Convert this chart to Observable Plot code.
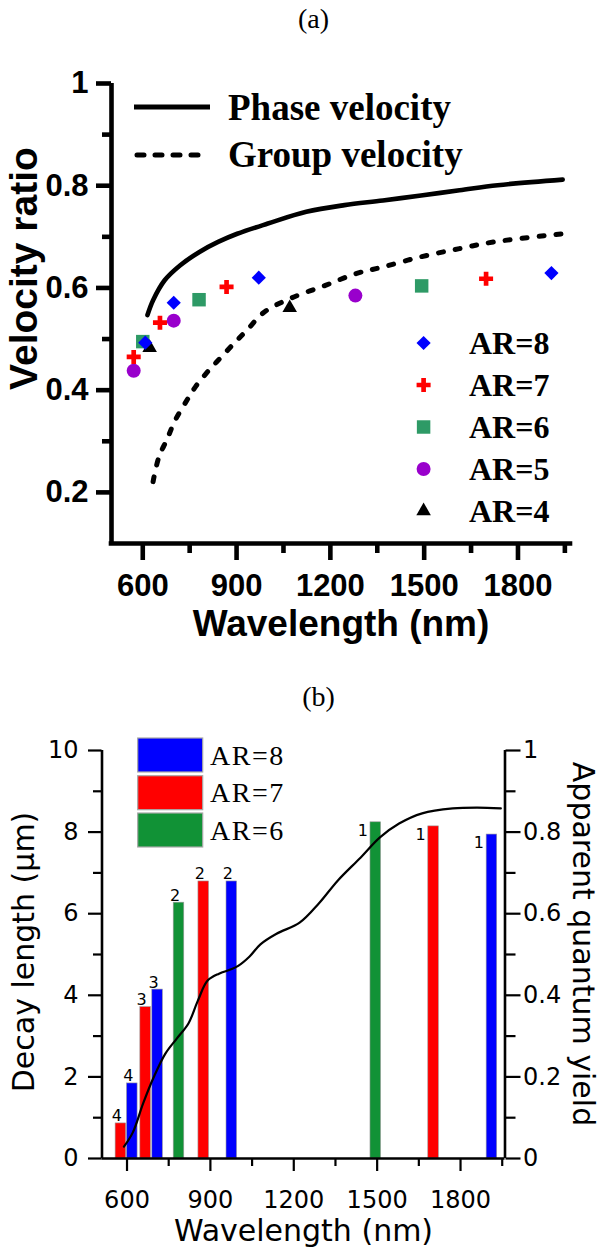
<!DOCTYPE html>
<html><head><meta charset="utf-8">
<script src="https://cdn.jsdelivr.net/npm/d3@7"></script>
<script src="https://cdn.jsdelivr.net/npm/@observablehq/plot@0.6"></script>
<style>
body{margin:0;background:#fff;}
#wrap{position:relative;width:600px;height:1250px;overflow:hidden;background:#fff;}
#wrap svg{position:absolute;left:0;}
</style></head><body><div id="wrap"></div>
<script>
// ---------- Panel (a): velocity ratio ----------
const seriesLabels = ["AR=8", "AR=7", "AR=6", "AR=5", "AR=4"];
const ar8Wavelength = [608, 699, 971, 1907];
const ar8Ratio = [0.493, 0.571, 0.620, 0.629];
const ar7Wavelength = [571, 655, 868, 1698];
const ar7Ratio = [0.465, 0.532, 0.602, 0.618];
const ar6Wavelength = [600, 780, 1492];
const ar6Ratio = [0.495, 0.577, 0.604];
const ar5Wavelength = [571, 699, 1280];
const ar5Ratio = [0.438, 0.536, 0.585];
const ar4Wavelength = [622, 1070];
const ar4Ratio = [0.483, 0.561];
const phaseWavelength = [615, 633, 670, 719, 780, 841, 902, 1000, 1123, 1245, 1368, 1490, 1613, 1735, 1943];
const phaseRatio = [0.547, 0.576, 0.615, 0.644, 0.670, 0.690, 0.706, 0.726, 0.749, 0.762, 0.771, 0.781, 0.791, 0.801, 0.812];
const groupWavelength = [633, 652, 677, 702, 739, 769, 813, 853, 897, 934, 989, 1074, 1184, 1282, 1368, 1490, 1613, 1723, 1943];
const groupRatio = [0.221, 0.270, 0.303, 0.339, 0.378, 0.407, 0.440, 0.466, 0.495, 0.518, 0.553, 0.580, 0.605, 0.628, 0.641, 0.661, 0.677, 0.690, 0.706];
const lineLabels = ["Phase velocity", "Group velocity"];
const aXTicks = [600, 900, 1200, 1500, 1800];
const aXMinor = [750, 1050, 1350, 1650, 1950];
const aYTicks = [0.2, 0.4, 0.6, 0.8, 1];
const aYMinor = [0.3, 0.5, 0.7, 0.9];

// ---------- Panel (b): decay length & quantum yield ----------
const barSeries = ["AR=8", "AR=7", "AR=6"];
const bar8Wavelength = [619, 710, 977, 1913];
const bar8Decay = [1.84, 4.14, 6.79, 7.94];
const bar8Mode = [4, 3, 2, 1];
const bar7Wavelength = [578, 667, 876, 1703];
const bar7Decay = [0.86, 3.71, 6.79, 8.14];
const bar7Mode = [4, 3, 2, 1];
const bar6Wavelength = [787, 1495];
const bar6Decay = [6.27, 8.24];
const bar6Mode = [2, 1];
const yieldWavelength = [589, 621, 658, 696, 738, 779, 821, 855, 890, 931, 972, 1000, 1041, 1080, 1138, 1221, 1290, 1358, 1441, 1510, 1579, 1662, 1772, 1860, 1945];
const yieldValue = [0.029, 0.064, 0.135, 0.199, 0.257, 0.294, 0.331, 0.387, 0.436, 0.453, 0.463, 0.472, 0.495, 0.525, 0.551, 0.578, 0.625, 0.681, 0.738, 0.787, 0.821, 0.846, 0.858, 0.860, 0.858];
const bXTicks = [600, 900, 1200, 1500, 1800];
const bXMinor = [750, 1050, 1350, 1650, 1950];
const bLeftTicks = [0, 2, 4, 6, 8, 10];
const bLeftMinor = [1, 3, 5, 7, 9];
const bRightTicks = [0, 0.2, 0.4, 0.6, 0.8, 1];
const bRightMinor = [0.1, 0.3, 0.5, 0.7, 0.9];

// ---------- styles ----------
const dotStyle = {
  "AR=8": {fill: "#0000ff", symbol: "diamond2", r: 6.4},
  "AR=7": {fill: "#ff0000", symbol: "cross", r: 5.9},
  "AR=6": {fill: "#2e9a66", symbol: "square", r: 7.6},
  "AR=5": {fill: "#9900cc", symbol: "circle", r: 7},
  "AR=4": {fill: "#000000", symbol: "triangle", r: 5.4}
};
const barColor = {"AR=8": "#0000ff", "AR=7": "#ff0000", "AR=6": "#119236"};
const serif = "'Liberation Serif', 'Times New Roman', serif";

const zip = (xs, ys, s) => xs.map((x, i) => ({x, y: ys[i], s}));
const pointsA = {
  "AR=8": zip(ar8Wavelength, ar8Ratio, "AR=8"),
  "AR=7": zip(ar7Wavelength, ar7Ratio, "AR=7"),
  "AR=6": zip(ar6Wavelength, ar6Ratio, "AR=6"),
  "AR=5": zip(ar5Wavelength, ar5Ratio, "AR=5"),
  "AR=4": zip(ar4Wavelength, ar4Ratio, "AR=4")
};
const phase = zip(phaseWavelength, phaseRatio, lineLabels[0]);
const group = zip(groupWavelength, groupRatio, lineLabels[1]);
const drawOrder = ["AR=6", "AR=4", "AR=5", "AR=7", "AR=8"];

const AX = 4.6;
const plotA = Plot.plot({
  width: 600, height: 660,
  marginLeft: 111, marginRight: 30, marginTop: 83, marginBottom: 117,
  x: {domain: [500, 1968], axis: null},
  y: {domain: [0.1, 1], axis: null},
  style: "font-family: 'Liberation Sans', Arial, sans-serif; font-weight: bold; background: white; color: black; overflow: visible;",
  marks: [
    Plot.line(phase, {x: "x", y: "y", curve: "catmull-rom", stroke: "black", strokeWidth: 4.6}),
    Plot.line(group, {x: "x", y: "y", curve: "catmull-rom", stroke: "black", strokeWidth: 5, strokeDasharray: "5,12", strokeLinecap: "round"}),
    ...drawOrder.map(s => Plot.dot(pointsA[s], {x: "x", y: "y", symbol: () => dotStyle[s].symbol, fill: dotStyle[s].fill, r: dotStyle[s].r, stroke: "none"})),
    Plot.ruleX([500], {y1: 0.1, y2: 1, strokeWidth: AX}),
    Plot.ruleY([0.1], {x1: 500, x2: 1968, strokeWidth: AX, strokeLinecap: "square"}),
    Plot.axisY(aYTicks, {tickSize: 15, tickPadding: 8, strokeWidth: AX, fontSize: 31, tickFormat: d => String(d), label: null}),
    Plot.axisY(aYMinor, {tickSize: 9, strokeWidth: AX, text: null, label: null}),
    Plot.axisX(aXTicks, {tickSize: 17, tickPadding: 13, strokeWidth: AX, fontSize: 31, tickFormat: d => String(d), label: null}),
    Plot.axisX(aXMinor, {tickSize: 10, strokeWidth: AX, text: null, label: null}),
    Plot.text(["Wavelength (nm)"], {text: d => d, frameAnchor: "bottom", textAnchor: "middle", lineAnchor: "bottom", dy: 92, fontSize: 37}),
    Plot.text(["Velocity ratio"], {text: d => d, frameAnchor: "left", textAnchor: "middle", lineAnchor: "bottom", rotate: -90, dx: -75, dy: -45, fontSize: 39}),
    Plot.text(["(a)"], {text: d => d, frameAnchor: "top", textAnchor: "middle", lineAnchor: "bottom", dx: 313 - 340.5, dy: 27 - 83, fontSize: 28, fontWeight: "normal", fontFamily: serif})
  ]
});
plotA.style.top = "0px";

// legend (a)
{
  const g = d3.select(plotA).append("g").attr("font-family", serif).attr("font-weight", "bold").attr("text-anchor", "start");
  g.append("line").attr("x1", 134).attr("x2", 210).attr("y1", 107).attr("y2", 107).attr("stroke", "black").attr("stroke-width", 5);
  g.append("line").attr("x1", 137).attr("x2", 206).attr("y1", 155).attr("y2", 155).attr("stroke", "black").attr("stroke-width", 5).attr("stroke-dasharray", "7,11").attr("stroke-linecap", "round");
  g.append("text").attr("x", 228).attr("y", 120).attr("font-size", 37).text(lineLabels[0]);
  g.append("text").attr("x", 228).attr("y", 167).attr("font-size", 37).text(lineLabels[1]);
  const symMap = {diamond2: d3.symbolDiamond2, cross: d3.symbolCross, square: d3.symbolSquare, circle: d3.symbolCircle, triangle: d3.symbolTriangle};
  seriesLabels.forEach((s, i) => {
    const st = dotStyle[s];
    const cy = 343 + i * 42;
    g.append("path").attr("transform", `translate(423.6,${cy})`).attr("fill", st.fill)
      .attr("d", d3.symbol(symMap[st.symbol], st.r * st.r * Math.PI)());
    g.append("text").attr("x", 469).attr("y", cy).attr("dy", "0.34em").attr("font-size", 32).text(s);
  });
}

// ---------- Panel (b) ----------
const bars = [];
[[barSeries[0], bar8Wavelength, bar8Decay, bar8Mode], [barSeries[1], bar7Wavelength, bar7Decay, bar7Mode], [barSeries[2], bar6Wavelength, bar6Decay, bar6Mode]]
  .forEach(([s, w, d, m]) => w.forEach((x, i) => bars.push({s, x, decay: d[i], mode: m[i]})));
const yieldLine = yieldWavelength.map((x, i) => ({x, q: yieldValue[i]}));
const halfBar = 19;

const BX = 2.6;
const plotB = Plot.plot({
  width: 600, height: 590,
  marginLeft: 101.5, marginRight: 95.5, marginTop: 90, marginBottom: 92,
  x: {domain: [510, 1960], axis: null},
  y: {domain: [0, 10], axis: null},
  style: "font-family: 'DejaVu Sans', Verdana, sans-serif; font-weight: normal; background: white; color: black; overflow: visible;",
  marks: [
    Plot.rectY(bars, {x1: d => d.x - halfBar, x2: d => d.x + halfBar, y1: 0, y2: "decay", fill: d => barColor[d.s], stroke: "#9a9a9a", strokeWidth: 0.6}),
    Plot.text(bars.filter(d => d.mode > 1), {x: "x", y: "decay", text: d => String(d.mode), lineAnchor: "bottom", dx: -4, dy: -2, fontSize: 16}),
    Plot.text(bars.filter(d => d.mode === 1), {x: "x", y: "decay", text: d => String(d.mode), lineAnchor: "top", dx: -13, dy: 2, fontSize: 16}),
    Plot.line(yieldLine, {x: "x", y: d => d.q * 10, curve: "catmull-rom", stroke: "black", strokeWidth: 2.2}),
    Plot.ruleX([510], {y1: 0, y2: 10, strokeWidth: BX}),
    Plot.ruleX([1960], {y1: 0, y2: 10, strokeWidth: BX}),
    Plot.ruleY([0], {x1: 510, x2: 1960, strokeWidth: BX}),
    Plot.axisY(bLeftTicks, {anchor: "left", tickSize: 13.5, tickPadding: 10, strokeWidth: 2.2, fontSize: 24, label: null}),
    Plot.axisY(bLeftMinor, {anchor: "left", tickSize: 8.5, strokeWidth: 2.2, text: null, label: null}),
    Plot.axisY(bRightTicks.map(v => v * 10), {anchor: "right", tickSize: 15, tickPadding: 3, strokeWidth: 2.2, fontSize: 24, tickFormat: d => String(+(d / 10).toFixed(1)), label: null}),
    Plot.axisY(bRightMinor.map(v => v * 10), {anchor: "right", tickSize: 10, strokeWidth: 2.2, text: null, label: null}),
    Plot.axisX(bXTicks, {tickSize: 13, tickPadding: 19, strokeWidth: 2.2, fontSize: 24, tickFormat: d => String(d), label: null}),
    Plot.axisX(bXMinor, {tickSize: 8, strokeWidth: 2.2, text: null, label: null}),
    Plot.text(["Wavelength (nm)"], {text: d => d, frameAnchor: "bottom", textAnchor: "middle", lineAnchor: "bottom", dy: 82, fontSize: 30}),
    Plot.text(["Decay length (μm)"], {text: d => d, frameAnchor: "left", textAnchor: "middle", lineAnchor: "bottom", rotate: -90, dx: -68.5, dy: -2.5, fontSize: 30}),
    Plot.text(["Apparent quantum yield"], {text: d => d, frameAnchor: "right", textAnchor: "middle", lineAnchor: "bottom", rotate: 90, dx: 67.5, dy: -10.5, fontSize: 30}),
    Plot.text(["(b)"], {text: d => d, frameAnchor: "top", textAnchor: "middle", lineAnchor: "bottom", dx: 318 - 303, dy: 45 - 90, fontSize: 28, fontFamily: serif})
  ]
});
plotB.style.top = "660px";

// legend (b)
{
  const g = d3.select(plotB).append("g").attr("font-family", serif).attr("text-anchor", "start");
  barSeries.forEach((s, i) => {
    const y0 = [78, 115.7, 153][i];
    g.append("rect").attr("x", 137.7).attr("y", y0).attr("width", 65).attr("height", 34)
      .attr("fill", barColor[s]).attr("stroke", "#a8a8a8").attr("stroke-width", 1.2);
    g.append("text").attr("x", 210).attr("y", y0 + 17).attr("dy", "0.34em").attr("font-size", 28)
      .attr("letter-spacing", "1.5px").text(s);
  });
}

document.getElementById("wrap").append(plotA, plotB);
</script>
</body></html>
